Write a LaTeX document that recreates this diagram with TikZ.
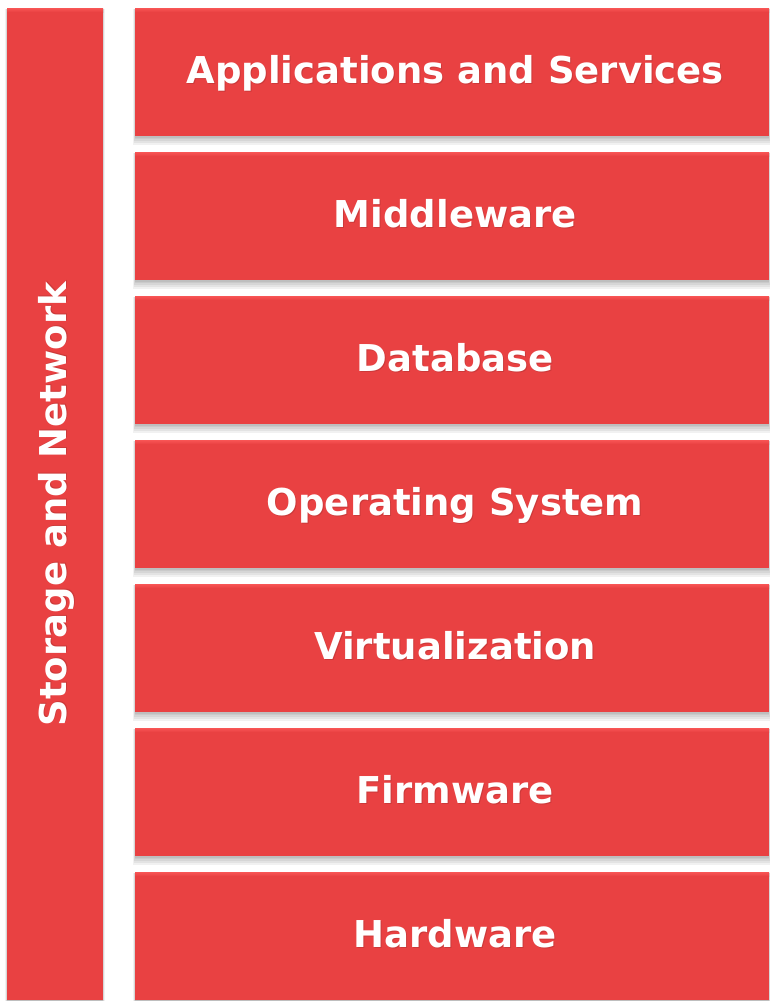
\documentclass[tikz,border=0pt]{standalone}
\usepackage{fontspec}
\setmainfont{DejaVu Sans}
\usetikzlibrary{calc}
\definecolor{boxred}{RGB}{233,65,66}
\definecolor{boxtop}{RGB}{248,85,85}
\tikzset{
  layerbox/.style={fill=boxred, draw=none, minimum width=634pt, minimum height=128pt, inner sep=0pt, anchor=north west},
  sidebox/.style={fill=boxred, draw=none, minimum width=96pt, minimum height=992pt, inner sep=0pt, anchor=north west},
  lbl/.style={text=white, font=\fontsize{37}{40}\selectfont\bfseries, inner sep=0pt, anchor=base},
  lblshadow/.style={text=black, text opacity=0.12, font=\fontsize{37}{40}\selectfont\bfseries, inner sep=0pt, anchor=base},
}
\newcommand{\softshadow}[4]{% x1 y1 x2 y2 (top-left, bottom-right)
  \foreach \k in {1,...,5}{
    \fill[black, opacity=0.055] ($(#1pt-\k*0.6pt+1pt,#2pt-1pt)$) rectangle ($(#3pt+\k*0.6pt-1pt,#4pt-\k*1.7pt)$);
  }
}
\begin{document}
\begin{tikzpicture}[x=1pt,y=1pt]
\useasboundingbox (0,0) rectangle (769,-1001);
\fill[white] (0,0) rectangle (769,-1001);
% shadows
\softshadow{7}{-8}{103}{-1000}
\foreach \i in {0,...,6}{
  \pgfmathsetmacro{\yt}{-8-144*\i}
  \pgfmathsetmacro{\yb}{\yt-128}
  \softshadow{135}{\yt}{769}{\yb}
}
% side bar
\node[sidebox] (side) at (7,-8) {};
\fill[top color=boxtop, bottom color=boxred] (7,-8) rectangle (103,-12);
\node[lblshadow, rotate=90] (sideshadow) at ($(side.center)+(12,1)$) {Storage and Network};
\node[lbl, rotate=90] (sidelbl) at ($(side.center)+(11,0)$) {Storage and Network};
% layers
\foreach \i/\t in {0/Applications and Services,1/Middleware,2/Database,3/Operating System,4/Virtualization,5/Firmware,6/Hardware}{
  \node[layerbox] (b\i) at (135,-8-144*\i) {};
  \fill[top color=boxtop, bottom color=boxred] (135,-8-144*\i) rectangle (769,-12-144*\i);
  \node[lblshadow] (s\i) at ($(b\i.center)+(4,-12)$) {\t};
  \node[lbl] (t\i) at ($(b\i.center)+(3,-11)$) {\t};
}
\end{tikzpicture}
\end{document}
